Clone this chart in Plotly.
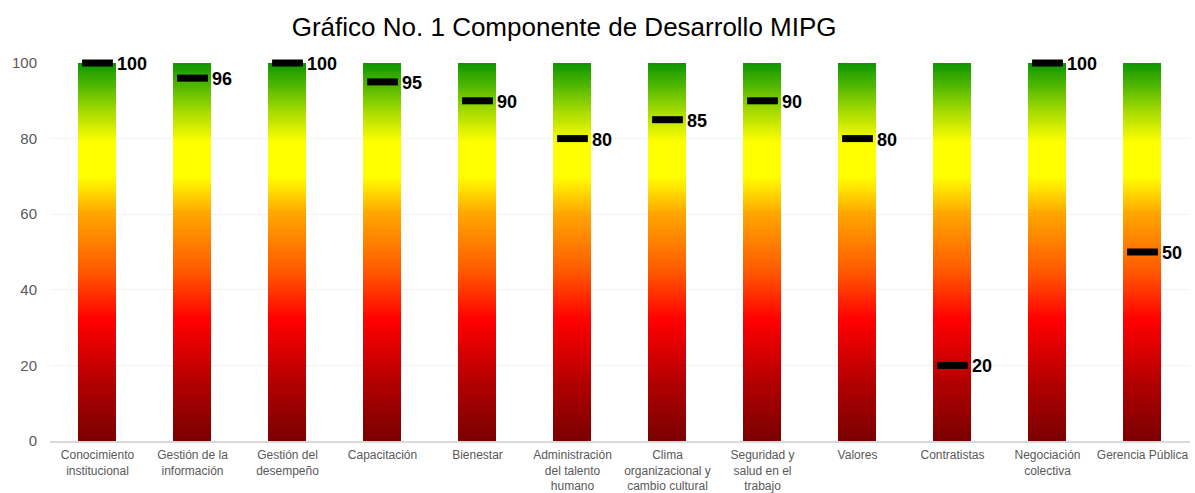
import numpy as np
import plotly.graph_objects as go

categories = [
    "Conocimiento<br>institucional",
    "Gestión de la<br>información",
    "Gestión del<br>desempeño",
    "Capacitación",
    "Bienestar",
    "Administración<br>del talento<br>humano",
    "Clima<br>organizacional y<br>cambio cultural",
    "Seguridad y<br>salud en el<br>trabajo",
    "Valores",
    "Contratistas",
    "Negociación<br>colectiva",
    "Gerencia Pública",
]
scores = [100, 96, 100, 95, 90, 80, 85, 90, 80, 20, 100, 50]
scale_max = 100
y_ticks = [0, 20, 40, 60, 80, 100]

# gradient background bars (0 -> scale_max) drawn as a heatmap column per category
edges = np.linspace(0, scale_max, 201)
mids = (edges[:-1] + edges[1:]) / 2
z = np.tile(mids[:, None], (1, len(categories)))

colorscale = [
    [0.0, "#7a0000"],
    [0.15, "#b00000"],
    [0.32, "#ff0000"],
    [0.45, "#ff5a00"],
    [0.6, "#ffa500"],
    [0.7, "#ffff00"],
    [0.79, "#ffff00"],
    [0.87, "#a8dc00"],
    [0.94, "#50b800"],
    [1.0, "#0f9400"],
]

fig = go.Figure()
fig.add_trace(go.Heatmap(
    x=categories, y=edges, z=z, zmin=0, zmax=scale_max,
    colorscale=colorscale, showscale=False, xgap=57, ygap=0,
    hoverinfo="skip",
))
fig.add_trace(go.Scatter(
    x=categories, y=scores, mode="markers",
    marker=dict(symbol="line-ew", size=22, line=dict(width=7, color="black")),
    cliponaxis=False, showlegend=False, hoverinfo="skip",
))
for c, v in zip(categories, scores):
    fig.add_annotation(
        x=c, y=v, text=f"<b>{v}</b>", showarrow=False,
        xanchor="left", yanchor="middle", xshift=17, yshift=-1,
        font=dict(family="Liberation Sans, Arial", size=18, color="black"),
    )

fig.update_layout(
    width=1195, height=493,
    margin=dict(l=50, r=5, t=63, b=52, autoexpand=False),
    paper_bgcolor="white", plot_bgcolor="white",
    title=dict(
        text="Gráfico No. 1 Componente de Desarrollo MIPG",
        x=0.451, xref="paper", xanchor="center", y=0.945, yanchor="middle",
        font=dict(family="Liberation Sans, Arial", size=26, color="black"),
    ),
    showlegend=False,
)
fig.update_xaxes(
    type="category", range=[-0.5, len(categories) - 0.5],
    showline=True, linecolor="#d9d9d9", linewidth=1.5,
    showgrid=False, ticks="", automargin=False, ticklabelstandoff=2,
    tickfont=dict(family="Liberation Sans, Arial", size=12, color="#595959"),
)
fig.update_yaxes(
    range=[0, scale_max], tickvals=y_ticks, automargin=False,
    showgrid=True, gridcolor="#f2f2f2", zeroline=False,
    ticks="", ticklabelstandoff=12,
    tickfont=dict(family="Liberation Sans, Arial", size=15, color="#595959"),
)

fig.write_html("out.html")
